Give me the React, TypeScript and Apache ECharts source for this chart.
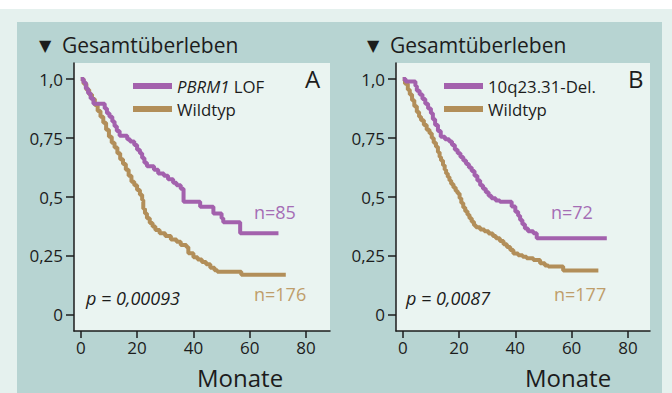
import React, { useEffect, useRef } from "react";
import * as echarts from "echarts";

// Panel A: PBRM1 LOF vs Wildtyp
const monthsA_lof = [0, 1.0, 1.8, 2.6, 3.5, 4.5, 8.5, 9.3, 10.2, 11.2, 12.0, 12.8, 13.8, 16.5, 17.5, 19.0, 20.0, 21.0, 21.8, 22.6, 23.5, 26.0, 27.5, 29.5, 31.0, 32.8, 34.0, 35.5, 36.5, 42.4, 47.1, 50.0, 50.6, 56.6, 70.2];
const survA_lof = [1.0, 0.985, 0.96, 0.94, 0.918, 0.895, 0.875, 0.855, 0.84, 0.82, 0.8, 0.78, 0.76, 0.745, 0.735, 0.72, 0.7, 0.685, 0.665, 0.645, 0.63, 0.615, 0.6, 0.59, 0.575, 0.56, 0.55, 0.535, 0.48, 0.459, 0.43, 0.41, 0.393, 0.346, 0.346];
const monthsA_wt = [0, 1, 2, 3, 4, 5, 6, 7, 8, 9, 10, 11, 12, 13, 14, 15, 16, 17, 18, 19, 20, 21, 21.8, 22.2, 22.8, 23.5, 24.5, 25.5, 26.5, 28, 30, 32, 34, 35.5, 37.5, 38.2, 40, 41.5, 43, 44.5, 46, 47.5, 48.5, 57, 72.8];
const survA_wt = [1.0, 0.98, 0.955, 0.935, 0.915, 0.89, 0.865, 0.84, 0.815, 0.785, 0.755, 0.73, 0.71, 0.685, 0.66, 0.64, 0.615, 0.59, 0.565, 0.55, 0.53, 0.51, 0.487, 0.45, 0.43, 0.41, 0.39, 0.375, 0.36, 0.346, 0.335, 0.32, 0.31, 0.297, 0.288, 0.262, 0.245, 0.235, 0.225, 0.215, 0.2, 0.19, 0.183, 0.17, 0.17];

// Panel B: 10q23.31-Del. vs Wildtyp
const monthsB_del = [0, 1.0, 4.5, 5.0, 6.0, 7.0, 8.0, 9.0, 10.0, 10.7, 11.5, 12.5, 13.5, 15.0, 16.5, 17.5, 18.5, 19.5, 20.5, 21.5, 22.5, 23.5, 24.5, 25.5, 26.5, 27.5, 28.5, 29.5, 30.5, 31.5, 33.0, 34.5, 38.7, 40.0, 41.0, 41.7, 42.5, 43.4, 44.5, 46.4, 47.6, 72.5];
const survB_del = [1.0, 0.99, 0.97, 0.95, 0.935, 0.915, 0.895, 0.875, 0.855, 0.83, 0.805, 0.78, 0.755, 0.745, 0.735, 0.72, 0.7, 0.685, 0.67, 0.655, 0.64, 0.625, 0.61, 0.59, 0.57, 0.55, 0.535, 0.52, 0.505, 0.495, 0.485, 0.48, 0.46, 0.438, 0.42, 0.403, 0.385, 0.367, 0.355, 0.346, 0.325, 0.325];
const monthsB_wt = [0, 0.8, 1.8, 2.5, 3.3, 4.1, 5.0, 5.8, 6.5, 7.5, 8.5, 9.5, 10.3, 11.0, 11.8, 12.5, 13.1, 13.6, 14.3, 14.9, 15.4, 16.0, 16.6, 17.2, 18.0, 18.8, 19.5, 20.2, 20.8, 21.5, 22.2, 23.0, 23.7, 24.5, 25.3, 26.0, 27.5, 29.0, 30.5, 32.0, 33.1, 34.5, 35.8, 37.0, 38.2, 39.3, 41.0, 42.6, 44.0, 46.4, 48.8, 50.5, 51.7, 57.0, 69.5];
const survB_wt = [1.0, 0.98, 0.955, 0.935, 0.91, 0.885, 0.86, 0.84, 0.825, 0.805, 0.785, 0.77, 0.75, 0.73, 0.713, 0.69, 0.67, 0.655, 0.635, 0.615, 0.6, 0.585, 0.57, 0.555, 0.54, 0.525, 0.515, 0.495, 0.475, 0.455, 0.44, 0.425, 0.41, 0.395, 0.38, 0.372, 0.362, 0.355, 0.345, 0.335, 0.325, 0.313, 0.3, 0.288, 0.275, 0.261, 0.253, 0.247, 0.24, 0.233, 0.219, 0.21, 0.205, 0.188, 0.188];

const xTicks = [0, 20, 40, 60, 80];
const yTicks = [0, 0.25, 0.5, 0.75, 1.0];
const yTickLabels = ["0", "0,25", "0,5", "0,75", "1,0"];

const seriesNames = ["PBRM1 LOF", "Wildtyp A", "10q23.31-Del.", "Wildtyp B"];
const nLabels = ["n=85", "n=176", "n=72", "n=177"];
const pLabels = ["p = 0,00093", "p = 0,0087"];

const FONT = "Open Sans";
const PURPLE = "#a361ad";
const TAN = "#b28e59";
const INK = "#1c1c1c";

function zip(t: number[], s: number[]) {
  return t.map((v, i) => [v, s[i]]);
}

export default function App() {
  const ref = useRef<HTMLDivElement>(null);
  useEffect(() => {
    document.body.style.margin = "0";
    const chart = echarts.init(ref.current!, undefined, { renderer: "svg" });
    const axisLine = { onZero: false, lineStyle: { color: INK, width: 1.5 } };
    const mkX = (gi: number, min: number, max: number) => ({
      gridIndex: gi,
      type: "value",
      min,
      max,
      axisLine,
      axisTick: { customValues: xTicks, length: 7, lineStyle: { color: INK, width: 1.5 } },
      axisLabel: { customValues: xTicks, margin: 8, fontSize: 17, color: INK, fontFamily: FONT },
      splitLine: { show: false },
    });
    const mkY = (gi: number) => ({
      gridIndex: gi,
      type: "value",
      min: -0.068,
      max: 1.068,
      axisLine,
      axisTick: { customValues: yTicks, length: 8, lineStyle: { color: INK, width: 1.5 } },
      axisLabel: {
        customValues: yTicks,
        margin: 11,
        fontSize: 17,
        color: INK,
        fontFamily: FONT,
        formatter: (v: number) => {
          const i = yTicks.findIndex((t) => Math.abs(t - v) < 1e-6);
          return i >= 0 ? yTickLabels[i] : "";
        },
      },
      splitLine: { show: false },
    });
    const mkLegend = (names: string[], left: number) => ({
      data: names,
      left,
      top: 75,
      orient: "vertical",
      icon: "rect",
      itemWidth: 39,
      itemHeight: 6,
      itemGap: 1,
      padding: 0,
      selectedMode: false,
      formatter: (name: string) =>
        name.startsWith("Wildtyp") ? "Wildtyp" : name === "PBRM1 LOF" ? "{i|PBRM1} LOF" : name,
      textStyle: {
        fontSize: 16.8,
        fontFamily: FONT,
        color: INK,
        lineHeight: 22,
        rich: { i: { fontStyle: "italic", fontSize: 16.8, fontFamily: FONT, color: INK, lineHeight: 22 } },
      },
    });
    const mkLine = (name: string, gi: number, data: number[][], color: string) => ({
      name,
      type: "line",
      xAxisIndex: gi,
      yAxisIndex: gi,
      step: "end",
      symbol: "none",
      showSymbol: false,
      data,
      color,
      lineStyle: { width: 4, color },
      silent: true,
    });
    const txt = (text: string, x: number, y: number, size: number, color: string, extra: any = {}) => ({
      type: "text",
      x,
      y,
      z: 10,
      style: { text, fill: color, fontSize: size, fontFamily: FONT, align: "left", verticalAlign: "middle", ...extra },
    });
    chart.setOption({
      animation: false,
      backgroundColor: "#e5f1ee",
      graphic: [
        { type: "rect", z: -100, shape: { x: 0, y: 0, width: 672, height: 9 }, style: { fill: "#ffffff" } },
        { type: "rect", z: -100, shape: { x: 17, y: 22, width: 645, height: 371 }, style: { fill: "#b7d4d2" } },
        txt("▼", 39, 45, 16, INK, { fontFamily: "DejaVu Sans" }),
        txt("Gesamtüberleben", 62, 45, 21, INK),
        txt("▼", 367, 45, 16, INK, { fontFamily: "DejaVu Sans" }),
        txt("Gesamtüberleben", 390, 45, 21, INK),
        txt("A", 305, 78, 24, INK),
        txt("B", 628, 78, 24, INK),
        txt(nLabels[0], 254, 212, 18, "#a56db5"),
        txt(nLabels[1], 254, 294, 18, "#bf9e6b"),
        txt(nLabels[2], 551, 212, 18, "#a56db5"),
        txt(nLabels[3], 554, 294, 18, "#bf9e6b"),
        txt(pLabels[0], 86, 298, 18, INK, { fontStyle: "italic" }),
        txt(pLabels[1], 406, 298, 18, INK, { fontStyle: "italic" }),
        txt("Monate", 197, 377, 24, INK),
        txt("Monate", 525, 377, 24, INK),
      ],
      grid: [
        { left: 74, top: 63, width: 256, height: 268, show: true, backgroundColor: "#eaf4f1", borderWidth: 0 },
        { left: 396, top: 63, width: 254, height: 268, show: true, backgroundColor: "#eaf4f1", borderWidth: 0 },
      ],
      xAxis: [mkX(0, -2.4, 88.5), mkX(1, -2.4, 87.85)],
      yAxis: [mkY(0), mkY(1)],
      legend: [mkLegend([seriesNames[0], seriesNames[1]], 133), mkLegend([seriesNames[2], seriesNames[3]], 444)],
      series: [
        mkLine(seriesNames[1], 0, zip(monthsA_wt, survA_wt), TAN),
        mkLine(seriesNames[0], 0, zip(monthsA_lof, survA_lof), PURPLE),
        mkLine(seriesNames[3], 1, zip(monthsB_wt, survB_wt), TAN),
        mkLine(seriesNames[2], 1, zip(monthsB_del, survB_del), PURPLE),
      ],
    });
    return () => chart.dispose();
  }, []);
  return <div ref={ref} style={{ width: 672, height: 393 }} />;
}
